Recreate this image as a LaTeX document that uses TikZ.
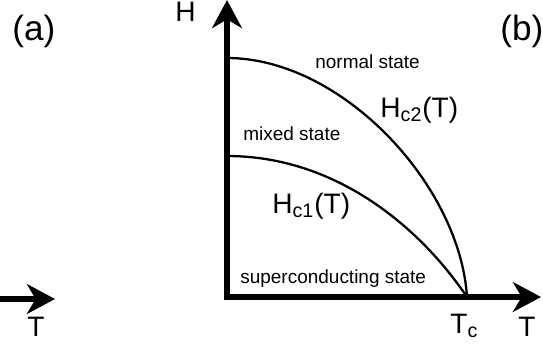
\documentclass[tikz,border=0pt]{standalone}
\usepackage{fontspec}
\setmainfont{Liberation Sans}
\usetikzlibrary{arrows.meta}

\begin{document}
\begin{tikzpicture}[x=0.02cm, y=-0.02cm,
    every node/.style={inner sep=0pt, anchor=base west},
    statelbl/.style={font=\fontsize{10.8}{12}\selectfont},
    curvelbl/.style={font=\fontsize{16}{18}\selectfont},
    axislbl/.style={font=\fontsize{16}{18}\selectfont},
    panellbl/.style={font=\fontsize{20}{22}\selectfont},
    >={Stealth[length=16pt, width=17pt, inset=5pt]},
    axis/.style={line width=3pt, line join=miter},
    curve/.style={line width=1.3pt}]

  \useasboundingbox (0,0) rectangle (543,343);

  \coordinate (origin)  at (227,297);
  \coordinate (Htip)    at (227,0);
  \coordinate (Ttip)    at (541,297);
  \coordinate (Tc)      at (467,297);
  \coordinate (Hc2zero) at (227,58);
  \coordinate (Hc1zero) at (227,156);
  \coordinate (aStart)  at (0,299);
  \coordinate (aTip)    at (55,299);

  % axes
  \draw[axis, <->] (Htip) -- (origin) -- (Ttip);
  \draw[axis, ->] (aStart) -- (aTip);

  % critical fields
  \draw[curve] (Hc2zero) .. controls (342,58) and (460,185) .. (Tc);
  \draw[curve] (Hc1zero) .. controls (335,156) and (419,226) .. (Tc);

  \node[panellbl] (lblA) at (12,40) {(a)};
  \node[panellbl] (lblB) at (500,40) {(b)};

  \node[axislbl] (lblH)  at (175,21)  {H};
  \node[axislbl] (lblT)  at (518,336) {T};
  \node[axislbl] (lblTa) at (27,336)  {T};
  \node[axislbl] (lblTc) at (450,333) {T\textsubscript{c}};

  \node[curvelbl] (lblHc2) at (380,117) {H\textsubscript{c2}(T)};
  \node[curvelbl] (lblHc1) at (272,213) {H\textsubscript{c1}(T)};

  \node[statelbl] (nNormal) at (315,68)  {normal state};
  \node[statelbl] (nMixed)  at (243,140) {mixed state};
  \node[statelbl] (nSuper)  at (240,283) {superconducting state};
\end{tikzpicture}
\end{document}
